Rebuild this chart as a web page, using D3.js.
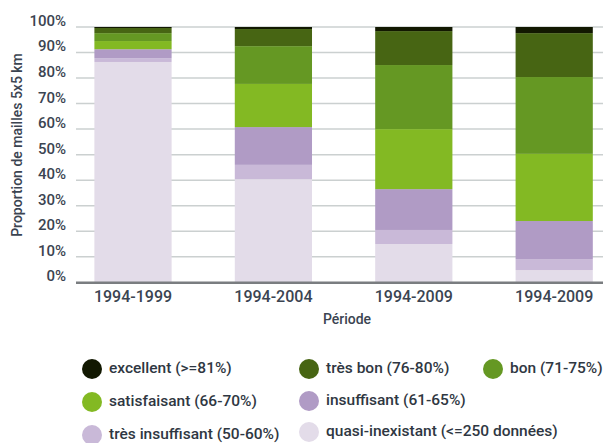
<!DOCTYPE html>
<html><head><meta charset="utf-8">
<script src="https://cdn.jsdelivr.net/npm/d3@7"></script>
<style>
html,body{margin:0;padding:0;background:#fff;}
svg{display:block;font-family:Roboto,"Open Sans",sans-serif;font-weight:500;}
</style></head>
<body>
<svg id="chart" width="603" height="443"></svg>
<script>
const periods = ["1994-1999", "1994-2004", "1994-2009", "1994-2009 "];
const seriesNames = ["quasi-inexistant (<=250 données)", "très insuffisant (50-60%)", "insuffisant (61-65%)", "satisfaisant (66-70%)", "bon (71-75%)", "très bon (76-80%)", "excellent (>=81%)"];
const quasiInexistant = [86.3, 40.4, 15.0, 4.8];
const tresInsuffisant = [1.5, 5.6, 5.5, 4.3];
const insuffisant = [3.5, 14.8, 16.0, 14.9];
const satisfaisant = [3.2, 16.9, 23.5, 26.3];
const bon = [3.1, 14.8, 25.1, 30.1];
const tresBon = [2.0, 6.7, 13.3, 17.2];
const excellent = [0.4, 0.8, 1.6, 2.4];
const seriesColors = ["#e3dce9", "#c9b9d8", "#b09bc5", "#83b923", "#659823", "#476513", "#121801"];
const yTicks = [0, 10, 20, 30, 40, 50, 60, 70, 80, 90, 100];
const legendOrder = [6, 5, 4, 3, 2, 1, 0];

const allSeries = [quasiInexistant, tresInsuffisant, insuffisant, satisfaisant, bon, tresBon, excellent];
const rows = periods.map((p, i) => {
  const r = {period: p};
  seriesNames.forEach((s, k) => r[s] = allSeries[k][i]);
  return r;
});
const stacked = d3.stack().keys(seriesNames)(rows);

const svg = d3.select("#chart");
const plotLeft = 76, plotRight = 603;
const y = d3.scaleLinear().domain([0, 100]).range([282.3, 27]);
const x = d3.scaleBand().domain(periods).range([62.8, 624.4]).paddingInner(0.45).paddingOuter(0.225);

// gridlines
svg.append("g").selectAll("line").data(yTicks.filter(t => t > 0)).join("line")
  .attr("x1", plotLeft).attr("x2", plotRight)
  .attr("y1", d => y(d)).attr("y2", d => y(d))
  .attr("stroke", "#cbd0d0").attr("stroke-width", 1.5);

// y labels
svg.append("g").selectAll("text").data(yTicks).join("text")
  .attr("x", 66).attr("y", d => y(d) - 5)
  .attr("text-anchor", "end").attr("dominant-baseline", "middle")
  .attr("font-size", 15).attr("fill", "#3b4451")
  .text(d => d + "%");

// bars
svg.append("g").selectAll("g").data(stacked).join("g")
  .attr("fill", (d, i) => seriesColors[i])
  .selectAll("rect").data(d => d).join("rect")
  .attr("x", d => x(d.data.period))
  .attr("width", x.bandwidth())
  .attr("y", d => y(d[1]))
  .attr("height", d => y(d[0]) - y(d[1]));

// baseline
svg.append("line").attr("x1", plotLeft).attr("x2", plotRight)
  .attr("y1", y(0) + 0.5).attr("y2", y(0) + 0.5)
  .attr("stroke", "#7a7d80").attr("stroke-width", 2.5);

// x labels
svg.append("g").selectAll("text").data(periods).join("text")
  .attr("x", d => x(d) + x.bandwidth() / 2).attr("y", 298)
  .attr("text-anchor", "middle").attr("dominant-baseline", "middle")
  .attr("font-size", 16).attr("fill", "#3b4451")
  .text(d => d.trim());

svg.append("text").attr("x", 347).attr("y", 320)
  .attr("text-anchor", "middle").attr("dominant-baseline", "middle")
  .attr("font-size", 14).attr("fill", "#3b4451").text("Période");

svg.append("text").attr("transform", "translate(18,145) rotate(-90)")
  .attr("text-anchor", "middle").attr("dominant-baseline", "middle")
  .attr("font-size", 14).attr("fill", "#3b4451").text("Proportion de mailles 5x5 km");

// legend
const legPos = [[92, 369], [309, 369], [493, 369], [92, 402], [309, 401], [92, 435], [309, 432]];
const leg = svg.append("g").selectAll("g").data(legendOrder).join("g")
  .attr("transform", (d, i) => `translate(${legPos[i][0]},${legPos[i][1]})`);
leg.append("circle").attr("r", 10).attr("fill", d => seriesColors[d]);
leg.append("text").attr("x", 17).attr("dominant-baseline", "middle")
  .attr("font-size", 15.5).attr("fill", "#2f3742").text(d => seriesNames[d]);
</script>
</body></html>
